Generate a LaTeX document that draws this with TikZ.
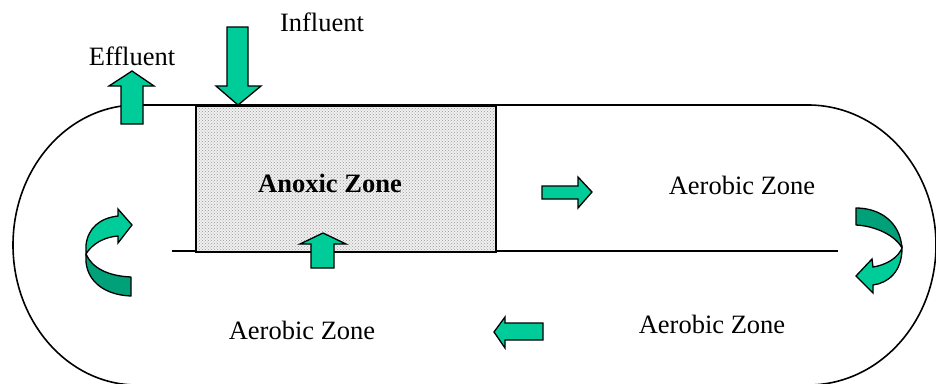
\documentclass[tikz,border=0pt]{standalone}
\usepackage{fontspec}
\setmainfont{Liberation Serif}
\usetikzlibrary{patterns}
\definecolor{arrgreen}{RGB}{0,204,153}
\definecolor{arrdark}{RGB}{0,160,120}
\begin{document}
\begin{tikzpicture}[x=1pt,y=-1pt,
  wall/.style={line width=1.6pt},
  blockarrow/.style={draw=black, line width=1.3pt, fill=arrgreen, line join=miter},
  darkpart/.style={draw=black, line width=1.3pt, fill=arrdark, line join=round},
  lightpart/.style={draw=black, line width=1.3pt, fill=arrgreen, line join=miter},
  lbl/.style={font=\fontsize{26.5}{30}\selectfont, inner sep=0pt}]
\useasboundingbox (0,0) rectangle (936,383);
% outer racetrack tank
\draw[wall] (137,105) -- (808,105)
  arc[start angle=-90, end angle=90, x radius=128, y radius=140]
  -- (137,385)
  arc[start angle=90, end angle=270, x radius=124, y radius=140] -- cycle;
% middle baffle
\coordinate (bafL) at (172,251);
\coordinate (bafR) at (838,251);
\draw[wall] (bafL) -- (bafR);
% anoxic zone box
\node (anoxicbox) [draw=black, line width=1.6pt, preaction={fill=black!6},
  pattern=crosshatch dots, pattern color=black!40,
  minimum width=300pt, minimum height=146pt, anchor=north west, inner sep=0pt] at (195,105) {};
% labels
\node[lbl] (influent) at (322,22) {Influent};
\node[lbl] (effluent) at (132,56) {Effluent};
\node[lbl, font=\fontsize{26.5}{30}\selectfont\bfseries] (anoxic) at (330,183) {Anoxic Zone};
\node[lbl] (aerobicA) at (742,185) {Aerobic Zone};
\node[lbl] (aerobicB) at (712,324) {Aerobic Zone};
\node[lbl] (aerobicC) at (302,330) {Aerobic Zone};
% influent arrow (down)
\draw[blockarrow] (227,27) -- (248,27) -- (248,86) -- (261,86) -- (238,105) -- (216,86) -- (227,86) -- cycle;
% effluent arrow (up)
\draw[blockarrow] (121,124) -- (143,124) -- (143,86) -- (154,86) -- (132,71) -- (109,86) -- (121,86) -- cycle;
% up arrow at anoxic bottom
\draw[blockarrow] (311,268) -- (334,268) -- (334,244) -- (346,244) -- (323,233) -- (300,244) -- (311,244) -- cycle;
% right arrow
\draw[blockarrow] (542,186) -- (578,186) -- (578,177) -- (592,192) -- (578,208) -- (578,199) -- (542,199) -- cycle;
% left arrow
\draw[blockarrow] (543,323) -- (505,323) -- (505,317) -- (494,332) -- (505,348) -- (505,340) -- (543,340) -- cycle;
% left curved arrow
\draw[darkpart] (86,254) -- (86,262) .. controls (88,282) and (105,295) .. (131,296)
  -- (131,277) .. controls (108,276) and (92,268) .. (86,254) -- cycle;
\draw[lightpart] (86,254) -- (86,245) .. controls (88,228) and (100,218) .. (118,216)
  -- (118,209) -- (132,225) -- (118,243) -- (118,236)
  .. controls (104,237) and (92,244) .. (86,254) -- cycle;
% right curved arrow
\draw[darkpart] (856,208) .. controls (880,208) and (900,222) .. (902,248)
  .. controls (895,235) and (875,226) .. (856,225) -- cycle;
\draw[lightpart] (902,248) .. controls (902,272) and (888,283) .. (873,285)
  -- (873,293) -- (856,276) -- (872,259) -- (873,267)
  .. controls (886,265) and (898,258) .. (902,248) -- cycle;
\end{tikzpicture}
\end{document}
